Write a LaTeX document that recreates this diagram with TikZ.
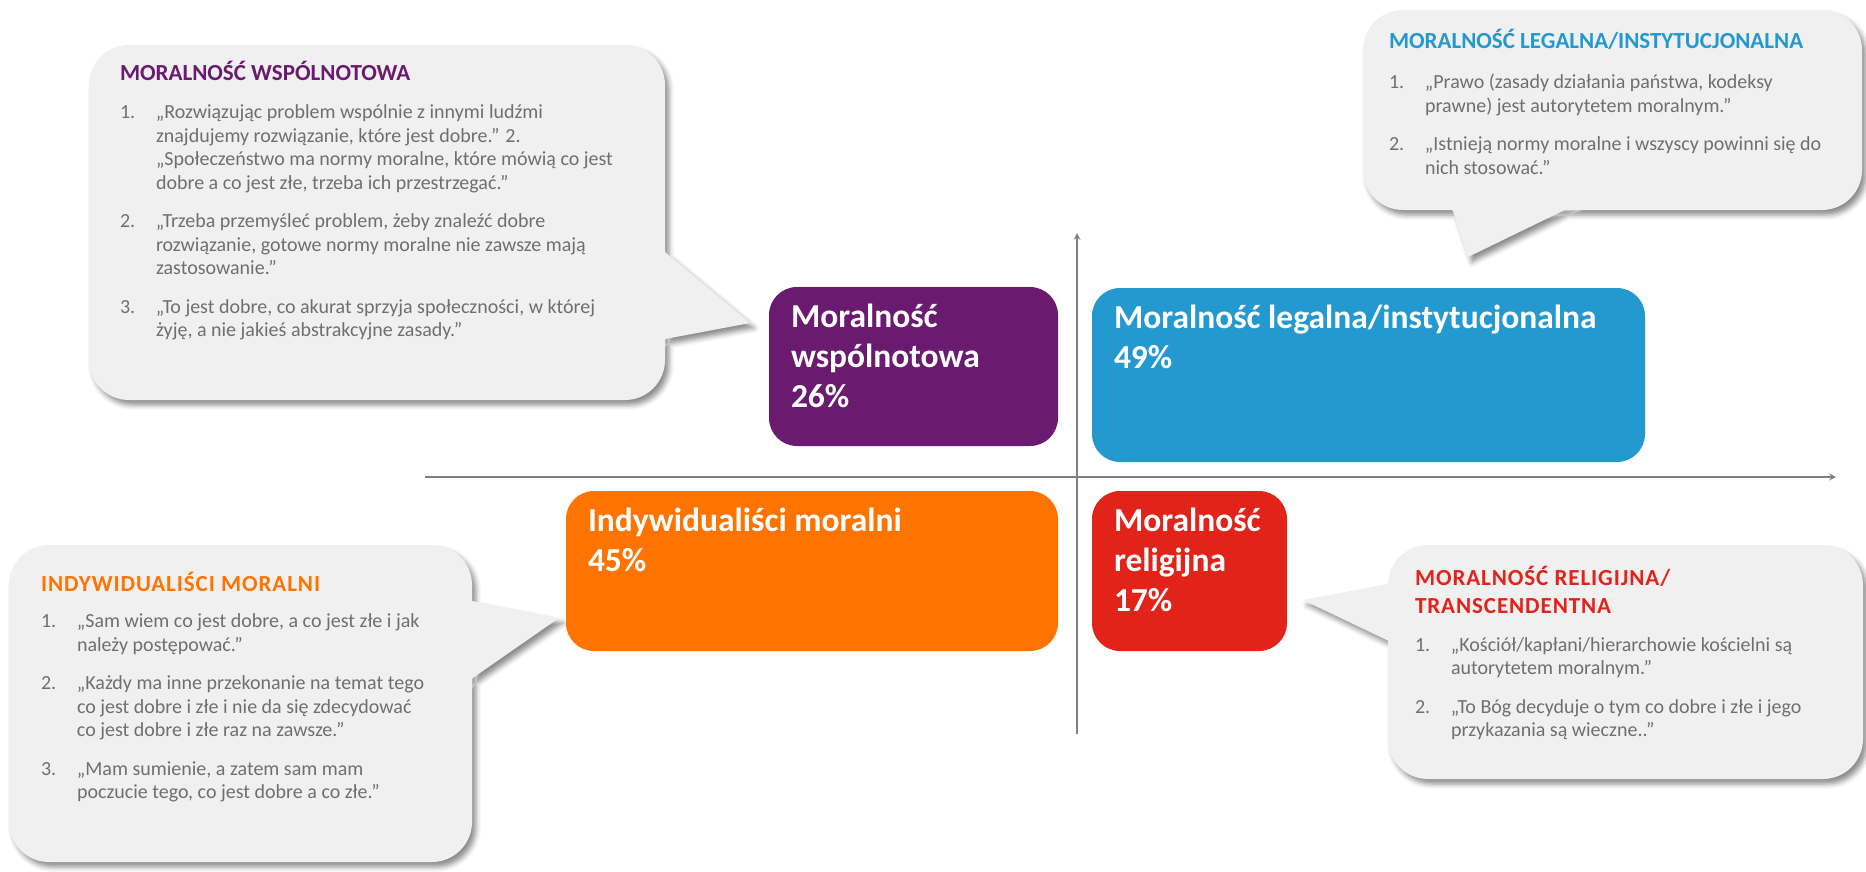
\documentclass[tikz,border=0pt]{standalone}
\usepackage{fontspec}
\setmainfont{Carlito}
\usepackage{tikz}
\usetikzlibrary{positioning,shadows.blur}
\definecolor{wspPurple}{HTML}{6A1B6F}
\definecolor{legBlue}{HTML}{2399D0}
\definecolor{indOrange}{HTML}{FF7300}
\definecolor{relRed}{HTML}{E2231A}
\definecolor{bubbleGray}{HTML}{F0F0F0}
\definecolor{quoteGray}{HTML}{6F6F6F}
\definecolor{axisGray}{HTML}{808080}
\newcommand{\qnum}[1]{\makebox[36pt][l]{#1}}
\newcommand{\qcont}{\hspace*{36pt}}

\begin{document}
\begin{tikzpicture}[x=1pt,y=-1pt]
    \tikzstyle{every node} = [inner sep=0pt, outer sep=0pt]
    \tikzstyle{box} = [rectangle, rounded corners=28pt]
    \tikzstyle{boxlabel} = [text=white, font=\fontsize{33.5}{40}\selectfont\bfseries, align=left, anchor=north west]
    \tikzstyle{bubble} = [fill=bubbleGray, blur shadow={shadow xshift=4pt, shadow yshift=-5pt, shadow blur radius=5pt, shadow opacity=45}]
    \tikzstyle{headline} = [font=\fontsize{23}{28}\selectfont\bfseries, align=left]
    \tikzstyle{wide} = [font=\fontsize{23}{28}\selectfont\bfseries\addfontfeature{LetterSpace=4}]
    \tikzstyle{quotes} = [text=quoteGray, font=\fontsize{20}{23.5}\selectfont, align=left, anchor=north west]
    \useasboundingbox (0,0) rectangle (1866,872);

    % speech bubbles
    \path[bubble] [rounded corners=40pt] (89,45) rectangle (665,400)
        [sharp corners] (660,248) -- (660,340) -- (750,323) -- cycle;
    \path[bubble] [rounded corners=40pt] (1363,10) rectangle (1862,210)
        [sharp corners] (1451,205) -- (1468,257) -- (1575,205) -- cycle;
    \path[bubble] [rounded corners=40pt] (9,545) rectangle (472,862)
        [sharp corners] (467,600) -- (467,682) -- (559,618) -- cycle;
    \path[bubble] [rounded corners=40pt] (1388,545) rectangle (1863,779)
        [sharp corners] (1393,583) -- (1303,600) -- (1393,643) -- cycle;

    % axes
    \coordinate (xStart) at (425,477);
    \coordinate (xEnd) at (1836,477);
    \coordinate (yStart) at (1077,734);
    \coordinate (yEnd) at (1077,233);
    \draw[-stealth, axisGray, line width=2pt] (xStart) -- (xEnd);
    \draw[-stealth, axisGray, line width=2pt] (yStart) -- (yEnd);

    % place nodes
    \node[box, fill=wspPurple, minimum width=289pt, minimum height=159pt] (wspBox) at (913.5,366.5) {};
    \node[box, fill=legBlue, minimum width=553pt, minimum height=174pt] (legBox) at (1368.5,375) {};
    \node[box, fill=indOrange, minimum width=492pt, minimum height=160pt] (indBox) at (812,571) {};
    \node[box, fill=relRed, minimum width=195pt, minimum height=160pt] (relBox) at (1189.5,571) {};

    \node[boxlabel] (wspLabel) at ([xshift=22pt,yshift=-17pt]wspBox.north west) {Moralność\\wspólnotowa\\26\%};
    \node[boxlabel] (legLabel) at ([xshift=22pt,yshift=-17pt]legBox.north west) {Moralność legalna/instytucjonalna\\49\%};
    \node[boxlabel] (indLabel) at ([xshift=22pt,yshift=-17pt]indBox.north west) {Indywidualiści moralni\\45\%};
    \node[boxlabel] (relLabel) at ([xshift=22pt,yshift=-17pt]relBox.north west) {Moralność\\religijna\\17\%};

    % bubble texts
    \node[headline, text=wspPurple, anchor=base west] (wspHead) at (120,80.5) {MORALNOŚĆ WSPÓLNOTOWA};
    \node[quotes, below=24pt of wspHead.south west, anchor=north west] (wspQuotes) {%
        \qnum{1.}„Rozwiązując problem wspólnie z innymi ludźmi\\
        \qcont znajdujemy rozwiązanie, które jest dobre.” 2.\\
        \qcont „Społeczeństwo ma normy moralne, które mówią co jest\\
        \qcont dobre a co jest złe, trzeba ich przestrzegać.”\\[15pt]
        \qnum{2.}„Trzeba przemyśleć problem, żeby znaleźć dobre\\
        \qcont rozwiązanie, gotowe normy moralne nie zawsze mają\\
        \qcont zastosowanie.”\\[15pt]
        \qnum{3.}„To jest dobre, co akurat sprzyja społeczności, w której\\
        \qcont żyję, a nie jakieś abstrakcyjne zasady.”};

    \node[headline, text=legBlue, anchor=base west] (legHead) at (1389,49) {MORALNOŚĆ LEGALNA/INSTYTUCJONALNA};
    \node[quotes, below=24pt of legHead.south west, anchor=north west] (legQuotes) {%
        \qnum{1.}„Prawo (zasady działania państwa, kodeksy\\
        \qcont prawne) jest autorytetem moralnym.”\\[15pt]
        \qnum{2.}„Istnieją normy moralne i wszyscy powinni się do\\
        \qcont nich stosować.”};

    \node[headline, wide, text=indOrange, anchor=base west] (indHead) at (41,591.5) {INDYWIDUALIŚCI MORALNI};
    \node[quotes, below=22pt of indHead.south west, anchor=north west] (indQuotes) {%
        \qnum{1.}„Sam wiem co jest dobre, a co jest złe i jak\\
        \qcont należy postępować.”\\[15pt]
        \qnum{2.}„Każdy ma inne przekonanie na temat tego\\
        \qcont co jest dobre i złe i nie da się zdecydować\\
        \qcont co jest dobre i złe raz na zawsze.”\\[15pt]
        \qnum{3.}„Mam sumienie, a zatem sam mam\\
        \qcont poczucie tego, co jest dobre a co złe.”};

    \node[headline, wide, text=relRed, anchor=north west] (relHead) at (1415,566) {MORALNOŚĆ RELIGIJNA/\\TRANSCENDENTNA};
    \node[quotes, below=24pt of relHead.south west, anchor=north west] (relQuotes) {%
        \qnum{1.}„Kościół/kapłani/hierarchowie kościelni są\\
        \qcont autorytetem moralnym.”\\[15pt]
        \qnum{2.}„To Bóg decyduje o tym co dobre i złe i jego\\
        \qcont przykazania są wieczne..”};
\end{tikzpicture}
\end{document}
